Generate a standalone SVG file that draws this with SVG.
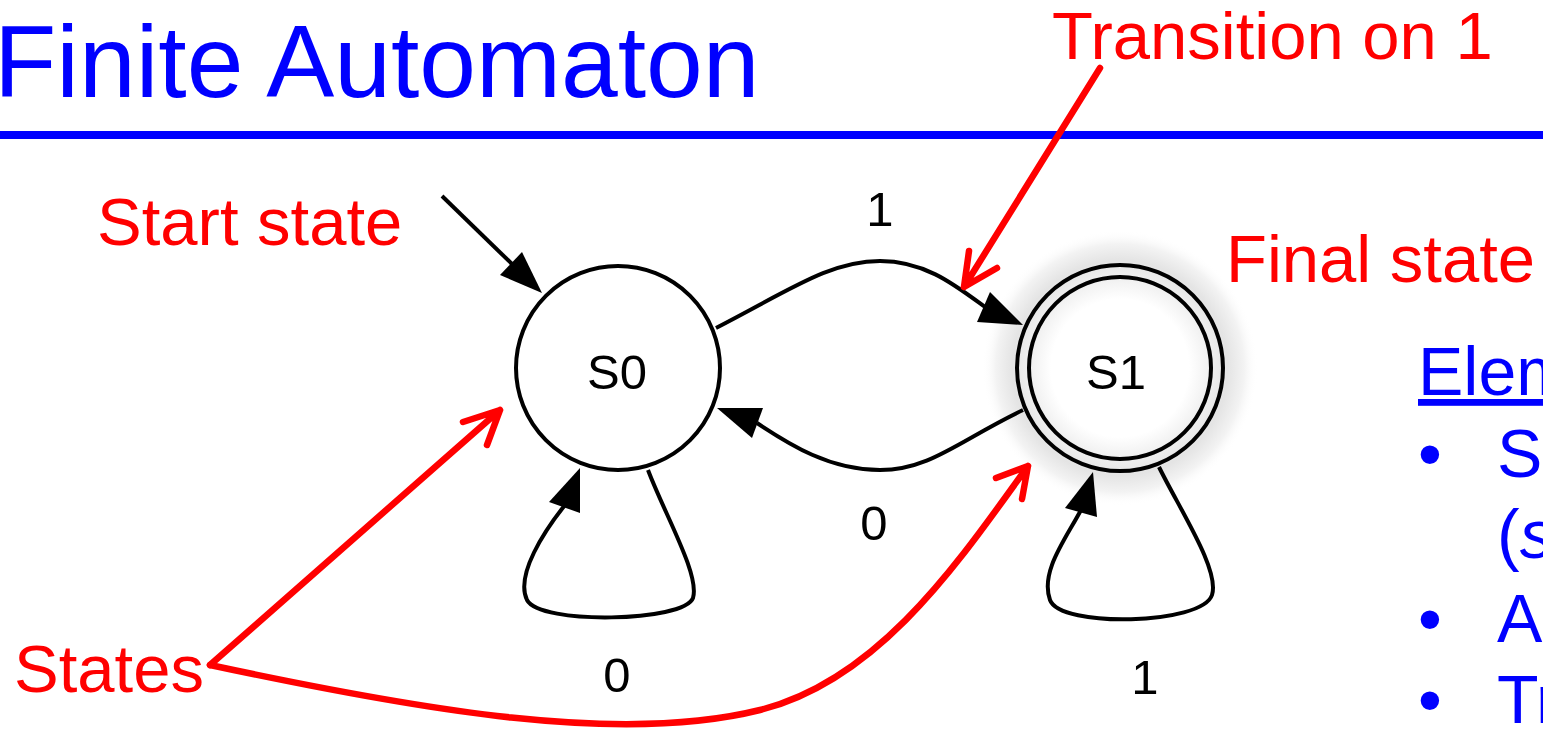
<svg xmlns="http://www.w3.org/2000/svg" width="1543" height="732" viewBox="0 0 1543 732">
<style>
text{font-family:"Liberation Sans",Arial,Helvetica,sans-serif}
.blue{fill:#0000ff}
.red{fill:#ff0000;font-size:67px}
.lbl{fill:#000;font-size:49px;text-anchor:middle}
.st{fill:none;stroke:#000;stroke-width:4}
.edge{fill:none;stroke:#000;stroke-width:4}
.head{fill:#000;stroke:none}
.ra{fill:none;stroke:#ff0000;stroke-width:6.5;stroke-linecap:round;stroke-linejoin:round}
.side{fill:#0000ff;font-size:68px}
</style>
<defs>
<radialGradient id="glow" cx="0.5" cy="0.5" r="0.5">
<stop offset="0" stop-color="#ffffff"/>
<stop offset="0.5" stop-color="#ffffff"/>
<stop offset="0.68" stop-color="#ededed"/>
<stop offset="0.78" stop-color="#e4e4e4"/>
<stop offset="0.9" stop-color="#f3f3f3"/>
<stop offset="1" stop-color="#ffffff" stop-opacity="0"/>
</radialGradient>
</defs>
<rect width="1543" height="732" fill="#ffffff"/>

<g id="title">
<text class="blue" x="-6" y="97" font-size="102">Finite Automaton</text>
<rect x="0" y="131" width="1543" height="8" fill="#0000ff"/>
</g>

<g id="S0">
<circle class="st" cx="618" cy="368" r="102" fill="#ffffff"/>
<text class="lbl" x="617" y="389" font-size="54">S0</text>
</g>

<g id="S1">
<circle cx="1120" cy="368" r="138" fill="url(#glow)"/>
<circle class="st" cx="1120" cy="368" r="103"/>
<circle class="st" cx="1120" cy="368" r="91"/>
<text class="lbl" x="1116" y="389" font-size="54">S1</text>
</g>

<g id="connectors">
<line class="edge" x1="442" y1="196" x2="513" y2="265"/>
<polygon class="head" points="542,293 500,275 522,252"/>

<path class="edge" d="M716,328 C790,290 830,261 880,261 C925,261 955,285 985,307"/>
<polygon class="head" points="1023,325 977,322 990,292"/>
<text class="lbl" x="880" y="226">1</text>

<path class="edge" d="M1023,410 C960,440 930,470 880,470 C830,470 790,445 757,423"/>
<polygon class="head" points="717,408 763,408 752,438"/>
<text class="lbl" x="874" y="540">0</text>

<path class="edge" d="M648,470 C665,515 700,575 693,598 C684,622 540,625 527,600 C515,575 545,530 565,505"/>
<polygon class="head" points="580,468 549,502 580,513"/>
<text class="lbl" x="617" y="692">0</text>

<path class="edge" d="M1159,467 C1180,510 1220,570 1212,595 C1202,625 1060,628 1050,600 C1040,572 1065,540 1081,510"/>
<polygon class="head" points="1093,472 1065,508 1097,517"/>
<text class="lbl" x="1145" y="694">1</text>
</g>

<g id="annotations">
<text class="red" x="97" y="245">Start state</text>
<text class="red" x="1052" y="59" font-size="65">Transition on 1</text>
<text class="red" x="1226" y="282">Final state</text>
<text class="red" x="14" y="692">States</text>
<path class="ra" d="M1100,68 L964,287 M969,251 L964,287 L997,268"/>
<path class="ra" d="M210,665 L500,410 M463,422 L500,410 L487,445"/>
<path class="ra" d="M210,665 C420,710 620,745 760,710 C880,680 960,560 1028,466 M996,478 L1028,466 L1022,499"/>
</g>

<g id="elements">
<text class="side" x="1418" y="395" text-decoration="underline">Elem</text>
<text class="side" x="1418" y="477">•</text>
<text class="side" x="1497" y="477">St</text>
<text class="side" x="1497" y="558">(<tspan font-style="italic">s</tspan></text>
<text class="side" x="1418" y="642">•</text>
<text class="side" x="1497" y="642">A</text>
<text class="side" x="1418" y="723">•</text>
<text class="side" x="1497" y="723">Tr</text>
</g>
</svg>
